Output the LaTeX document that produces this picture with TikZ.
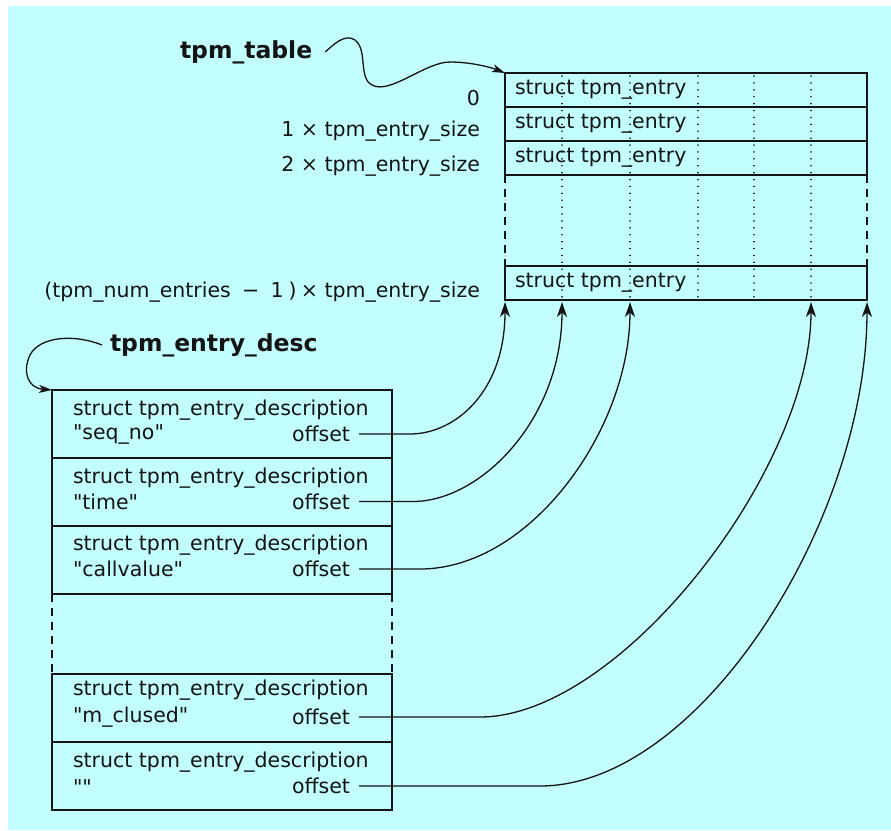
\documentclass[tikz,border=0pt]{standalone}
\usepackage{fontspec}
\setmainfont{DejaVu Sans}[Ligatures=TeXOff]
\usetikzlibrary{arrows.meta,calc}
\definecolor{paper}{RGB}{194,254,254}
\definecolor{ink}{RGB}{20,20,20}

\begin{document}
\begin{tikzpicture}[x=1pt,y=-1pt,
  every node/.style={inner sep=0pt, outer sep=0pt, text=ink,
    font=\fontsize{20.5}{24}\selectfont},
  box/.style={draw=ink, line width=1.6pt},
  entryrow/.style={box, minimum width=362pt, minimum height=34pt, anchor=north west},
  descrow/.style={box, minimum width=340pt, minimum height=68pt, anchor=north west},
  lbl/.style={anchor=west},
  offs/.style={anchor=east, inner xsep=9pt},
  rlbl/.style={anchor=east},
  title/.style={anchor=west, font=\fontsize{23.5}{27}\selectfont\bfseries},
  gapside/.style={draw=ink, line width=1.6pt, dash pattern=on 8pt off 6pt},
  field/.style={draw=ink, line width=1.5pt, line cap=round, dash pattern=on 0.1pt off 6.8pt},
  conn/.style={draw=ink, line width=1.3pt, -{Stealth[length=15pt,width=10pt,inset=4.5pt]}},
  ptr/.style={draw=ink, line width=1.3pt, -{Stealth[length=13pt,width=8pt,inset=3.5pt]}}
]
% page
\fill[white] (0,0) rectangle (891,830);
\fill[paper] (8,6) rectangle (891,830);
\useasboundingbox (0,0) rectangle (891,830);

% ---- the tpm_table array ----
\node[entryrow] (r1) at (505,73) {};
\node[entryrow] (r2) at (505,107) {};
\node[entryrow] (r3) at (505,141) {};
\node[entryrow] (r4) at (505,266) {};
\draw[gapside] (r3.south west) -- (r4.north west);
\draw[gapside] (r3.south east) -- (r4.north east);

% field boundaries inside each entry
\foreach \fx in {562,630,698,754,811}
  \draw[field] (\fx,76) -- (\fx,298);

\node[lbl] at ([xshift=10pt]r1.west) {struct tpm\_entry};
\node[lbl] at ([xshift=10pt]r2.west) {struct tpm\_entry};
\node[lbl] at ([xshift=10pt]r3.west) {struct tpm\_entry};
\node[lbl] at ([xshift=10pt]r4.west) {struct tpm\_entry};

% byte offsets of the entries
\node[rlbl] (off0) at (480,98) {0};
\node[rlbl] (off1) at (480,131) {1 × tpm\_entry\_size};
\node[rlbl] (off2) at (480,166) {2 × tpm\_entry\_size};
\node[rlbl] (offn) at (480,292) {(tpm\_num\_entries\hspace{0.55em}−\hspace{0.55em}1\hspace{0.25em})\hspace{0.2em}× tpm\_entry\_size};

% field start points on the last entry
\coordinate (a1) at (505,302);
\coordinate (a2) at (562,302);
\coordinate (a3) at (630,302);
\coordinate (a4) at (811,302);
\coordinate (a5) at (867,302);

% ---- pointer label for the table ----
\node[title] (tbl) at (180,52) {tpm\_table};
\draw[ptr] ([xshift=13pt]tbl.east) .. controls (333,45) and (345,33) .. (355,40)
  .. controls (368,50) and (358,78) .. (372,85)
  .. controls (390,95) and (425,62) .. (450,62)
  .. controls (470,62) and (490,67) .. (r1.north west);

% ---- the descriptor array ----
\node[descrow] (d1) at (52,390) {};
\node[descrow] (d2) at (52,458) {};
\node[descrow] (d3) at (52,526) {};
\node[descrow] (d4) at (52,674) {};
\node[descrow] (d5) at (52,742) {};
\draw[gapside] (d3.south west) -- (d4.north west);
\draw[gapside] (d3.south east) -- (d4.north east);

\node[lbl] at (73,410) {struct tpm\_entry\_description};
\node[lbl] at (73,434) {"seq\_no"};
\node[offs] (o1) at (359,434) {offset};

\node[lbl] at (73,478) {struct tpm\_entry\_description};
\node[lbl] at (73,501.5) {"time"};
\node[offs] (o2) at (359,501.5) {offset};

\node[lbl] at (73,545) {struct tpm\_entry\_description};
\node[lbl] at (73,569) {"callvalue"};
\node[offs] (o3) at (359,569) {offset};

\node[lbl] at (73,690) {struct tpm\_entry\_description};
\node[lbl] at (73,717) {"m\_clused"};
\node[offs] (o4) at (359,717) {offset};

\node[lbl] at (73,762) {struct tpm\_entry\_description};
\node[lbl] at (73,787) {""};
\node[offs] (o5) at (359,786) {offset};

% ---- pointer label for the descriptors ----
\node[title] (desc) at (110,345) {tpm\_entry\_desc};
\draw[ptr] ([xshift=-8pt]desc.west) .. controls (75,334) and (40,336) .. (30,355)
  .. controls (22,372) and (28,388) .. (d1.north west);

% ---- offsets pointing into the entry ----
\draw[conn] (o1.east) -- (410,434) .. controls (455,434) and (505,392) .. (a1);
\draw[conn] (o2.east) -- (413,501.5) .. controls (480,501.5) and (562,420) .. (a2);
\draw[conn] (o3.east) -- (420,569) .. controls (530,569) and (630,430) .. (a3);
\draw[conn] (o4.east) -- (480,717) .. controls (620,717) and (811,470) .. (a4);
\draw[conn] (o5.east) -- (540,786) .. controls (700,786) and (867,520) .. (a5);
\end{tikzpicture}
\end{document}
